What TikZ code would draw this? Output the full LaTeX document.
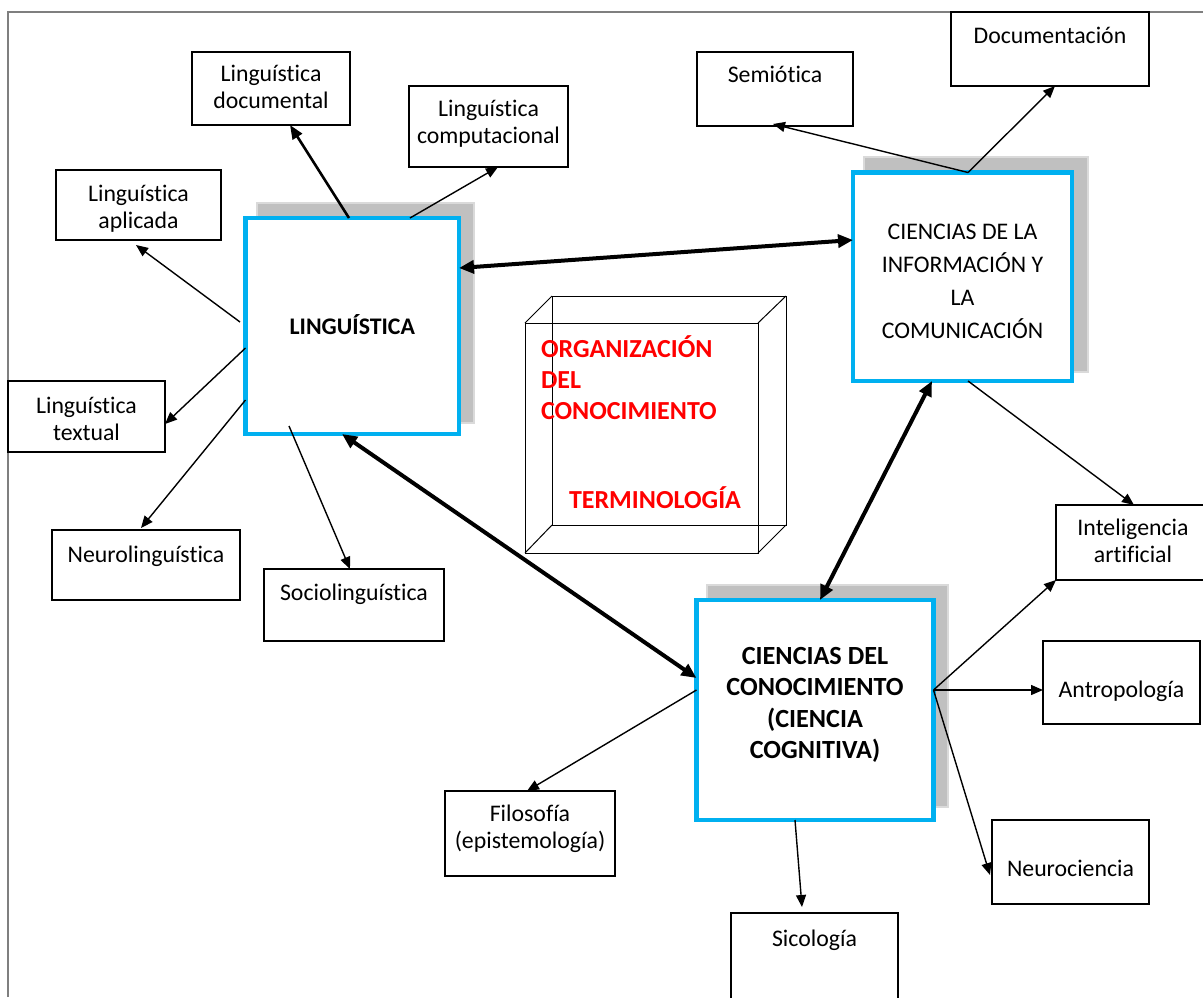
\documentclass[tikz,border=0pt]{standalone}
\usepackage{fontspec}
\setmainfont{Carlito}[Ligatures=NoCommon]
\usetikzlibrary{arrows.meta,calc}
\definecolor{cyanb}{HTML}{00B0F0}
\definecolor{shadowgray}{HTML}{C0C0C0}
\definecolor{shadowline}{HTML}{DADADA}
\definecolor{framegray}{HTML}{7F7F7F}
\newcommand\tb[4]{\parbox[c][#2pt][t]{#1pt}{\vspace*{#3pt}\centering\strut #4}}
\begin{document}
\begin{tikzpicture}[x=1pt,y=-1pt,
  every node/.style={inner sep=0pt, outer sep=0pt},
  sbox/.style={draw, line width=1.3pt, fill=white, anchor=north west, font=\fontsize{23.8}{27}\selectfont},
  mbox/.style={draw=cyanb, line width=4.5pt, fill=white, anchor=north west},
  shadowbox/.style={fill=shadowgray, draw=shadowline, line width=1.5pt, anchor=north west},
  thinarrow/.style={line width=1.4pt, -{Triangle[length=12pt,width=10pt]}},
  medarrow/.style={line width=2.6pt, -{Triangle[length=14pt,width=11pt]}},
  thickarrow/.style={line width=4pt, {Triangle[length=15pt,width=13pt]}-{Triangle[length=15pt,width=13pt]}},
  redtext/.style={text=red, font=\bfseries\fontsize{26}{31}\selectfont, align=left, anchor=west},
  cube/.style={line width=1pt, draw=black}]
\useasboundingbox (0,0) rectangle (1203,997);
% frame
\draw[framegray, line width=1.5pt] (8,997) -- (8,12) -- (1203,12);

% shadows
\node[shadowbox, minimum width=217pt, minimum height=220pt] (lsh) at (257,203) {};
\node[shadowbox, minimum width=224pt, minimum height=215pt] (ish) at (864,157) {};
\node[shadowbox, minimum width=241pt, minimum height=222pt] (csh) at (707,585) {};

% main boxes
\node[mbox, font=\fontsize{23.8}{32}\selectfont] (ling) at (245.5,218) {\tb{213.5}{216}{94.4}{\bfseries LINGUÍSTICA}};
\node[mbox, font=\fontsize{23.8}{33}\selectfont] (info) at (853,172.5) {\tb{219}{208.5}{43.9}{CIENCIAS DE LA\\INFORMACIÓN Y\\LA\\COMUNICACIÓN}};
\node[mbox, font=\fontsize{26.2}{31.5}\selectfont] (conoc) at (696.5,600) {\tb{237}{220}{42.4}{\bfseries CIENCIAS DEL\\CONOCIMIENTO\\(CIENCIA\\COGNITIVA)}};

% small boxes
\node[sbox] (ldoc) at (192,52) {\tb{158}{73}{11}{Linguística\\documental}};
\node[sbox] (lcomp) at (409,86) {\tb{159}{81}{12}{Linguística\\computacional}};
\node[sbox] (lapl) at (56,170) {\tb{165}{70}{13}{Linguística\\aplicada}};
\node[sbox] (ltext) at (8,381) {\tb{157}{71}{14}{Linguística\\textual}};
\node[sbox] (neuro) at (52,530) {\tb{188}{70}{14}{Neurolinguística}};
\node[sbox] (socio) at (264,569) {\tb{180}{72}{13}{Sociolinguística}};
\node[sbox] (semio) at (697,52) {\tb{156}{74}{12}{Semiótica}};
\node[sbox] (doc) at (951,12) {\tb{198}{74}{13}{Documentación}};
\node[sbox] (ia) at (1056,505) {\tb{154}{75}{12}{Inteligencia\\artificial}};
\node[sbox] (antro) at (1043,641) {\tb{157}{83}{38}{Antropología}};
\node[sbox] (neuroc) at (992,820) {\tb{157}{84}{38}{Neurociencia}};
\node[sbox] (filo) at (445,791) {\tb{170}{85}{12}{Filosofía\\(epistemología)}};
\node[sbox] (sico) at (731,913) {\tb{167}{92}{15}{Sicología}};

% cube
\draw[cube] (552,296) rectangle (786,525);
\draw[cube] (525,323) rectangle (758,553);
\draw[cube] (525,323) -- (552,296);
\draw[cube] (758,323) -- (786,296);
\draw[cube] (758,553) -- (786,525);
\draw[cube] (525,553) -- (552,525);
\node[redtext] (org) at (541,378) {ORGANIZACIÓN\\DEL\\CONOCIMIENTO};
\node[redtext] (term) at (569,497.5) {TERMINOLOGÍA};

% connectors from LINGUISTICA
\draw[medarrow] ([xshift=103.5pt]ling.north west) -- ([xshift=98pt]ldoc.south west);
\draw[thinarrow] ([xshift=164.5pt]ling.north west) -- ([xshift=89pt]lcomp.south west);
\draw[thinarrow] ([xshift=-5.5pt,yshift=4pt]ling.west) -- ([xshift=80pt,yshift=-5pt]lapl.south west);
\draw[thinarrow] ([yshift=-22pt]ling.west) -- ([yshift=-7.5pt]ltext.east);
\draw[thinarrow] ([yshift=-74pt]ling.west) -- ([xshift=89pt,yshift=2pt]neuro.north west);
\draw[thinarrow] ([xshift=43.5pt,yshift=8pt]ling.south west) -- ([xshift=86pt]socio.north west);

% thick double arrows
\draw[thickarrow] ([yshift=58pt]ling.east) -- ([yshift=36.75pt]info.west);
\draw[thickarrow] ([xshift=96.5pt]ling.south west) -- ([yshift=32pt]conoc.west);
\draw[thickarrow] ([xshift=79pt]info.south west) -- ([xshift=123.5pt]conoc.north west);

% from INFO
\coordinate (itop) at ([xshift=115pt]info.north west);
\draw[thinarrow] (itop) -- ([xshift=76pt,yshift=2pt]semio.south west);
\draw[thinarrow] (itop) -- ([xshift=104pt]doc.south west);
\draw[thinarrow] ([xshift=115pt]info.south west) -- ([xshift=78pt]ia.north west);

% from CONOC
\coordinate (cright) at ([yshift=20pt]conoc.east);
\draw[thinarrow] (cright) -- (ia.south west);
\draw[thinarrow] (cright) -- ([yshift=-7.5pt]antro.west);
\draw[thinarrow] (cright) -- ([xshift=-2pt,yshift=-13pt]neuroc.west);
\draw[thinarrow] ([yshift=20pt]conoc.west) -- ([xshift=82pt]filo.north west);
\draw[thinarrow] ([xshift=98.5pt]conoc.south west) -- ([xshift=71pt,yshift=6pt]sico.north west);
\end{tikzpicture}
\end{document}
